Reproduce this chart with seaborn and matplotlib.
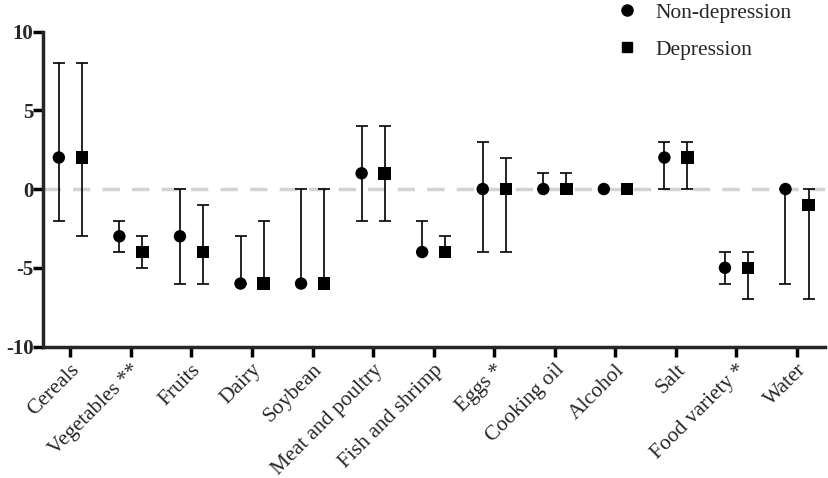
import numpy as np
import pandas as pd
import seaborn as sns
import matplotlib.pyplot as plt

categories = ['Cereals', 'Vegetables **', 'Fruits', 'Dairy', 'Soybean', 'Meat and poultry',
              'Fish and shrimp', 'Eggs *', 'Cooking oil', 'Alcohol', 'Salt', 'Food variety *', 'Water']

# median with lower / upper bound
nondep_mid = [2, -3, -3, -6, -6, 1, -4, 0, 0, 0, 2, -5, 0]
nondep_low = [-2, -4, -6, -6, -6, -2, -4, -4, 0, 0, 0, -6, -6]
nondep_high = [8, -2, 0, -3, 0, 4, -2, 3, 1, 0, 3, -4, 0]

dep_mid = [2, -4, -4, -6, -6, 1, -4, 0, 0, 0, 2, -5, -1]
dep_low = [-3, -5, -6, -6, -6, -2, -4, -4, 0, 0, 0, -7, -7]
dep_high = [8, -3, -1, -2, 0, 4, -3, 2, 1, 0, 3, -4, 0]

groups = ['Non-depression', 'Depression']

rows = []
for i, c in enumerate(categories):
    rows.append(dict(cat=c, idx=i - 0.19, group=groups[0], mid=nondep_mid[i],
                     low=nondep_low[i], high=nondep_high[i]))
    rows.append(dict(cat=c, idx=i + 0.19, group=groups[1], mid=dep_mid[i],
                     low=dep_low[i], high=dep_high[i]))
df = pd.DataFrame(rows)

sns.set_theme(style='ticks')
plt.rcParams['font.family'] = ['Liberation Serif', 'DejaVu Serif']
plt.rcParams['axes.unicode_minus'] = False

fig = plt.figure(figsize=(8.29, 4.78), dpi=100)
ax = fig.add_axes([0.052, 0.275, 0.943, 0.659])

ax.axhline(0, color='#d3d3d3', lw=2.5, ls=(0, (5, 3.5)), zorder=0)

ax.errorbar(df['idx'], df['mid'],
            yerr=[df['mid'] - df['low'], df['high'] - df['mid']],
            fmt='none', ecolor='black', elinewidth=1.2, capsize=4.5, capthick=1.2, zorder=2)

sns.scatterplot(data=df, x='idx', y='mid', style='group', markers={'Non-depression': 'o', 'Depression': 's'},
                color='black', s=80, edgecolor='black', linewidth=0, ax=ax, zorder=3, legend=False)

ax.set_xlim(-0.45, 12.46)
ax.set_ylim(-10, 10)
ax.set_yticks([-10, -5, 0, 5, 10])
ax.set_xticks(range(len(categories)))
ax.set_xticklabels(categories, rotation=45, ha='right', rotation_mode='anchor', fontsize=15.5)
for t in ax.get_yticklabels():
    t.set_fontweight('bold')
    t.set_fontsize(15)
ax.set_xlabel('')
ax.set_ylabel('')

for s in ['top', 'right']:
    ax.spines[s].set_visible(False)
for s in ['left', 'bottom']:
    ax.spines[s].set_linewidth(2.5)
ax.tick_params(axis='both', width=2.5, length=7, color='black', pad=3)
ax.tick_params(axis='y', pad=0)

handles = [plt.Line2D([], [], marker='o', color='black', ls='none', markersize=8),
           plt.Line2D([], [], marker='s', color='black', ls='none', markersize=7)]
fig.legend(handles, groups, loc='upper left', bbox_to_anchor=(0.713, 1.035), frameon=False,
           fontsize=15.5, handletextpad=0.6, labelspacing=0.8, handlelength=1.5)

plt.savefig('out.png', dpi=100)
